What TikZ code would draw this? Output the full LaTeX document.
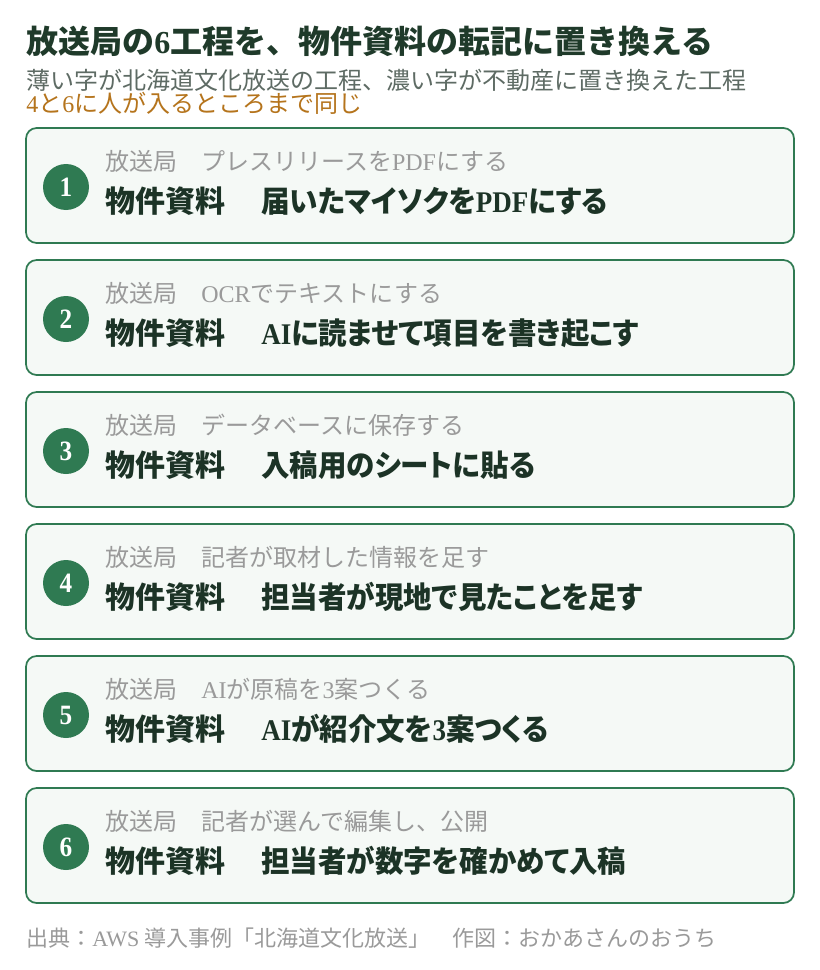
\documentclass[tikz,border=0pt]{standalone}
\usepackage{fontspec}
\setmainfont{Noto Sans CJK JP}
\newfontfamily\jp{Noto Sans CJK JP}
\newfontfamily\jpp[RawFeature=+palt, FakeStretch=0.95]{Noto Sans CJK JP}
\newfontfamily\lat{Liberation Serif}
\newfontfamily\latc[FakeStretch=0.9]{Liberation Serif}
\newcommand{\ltn}[1]{{\lat #1}}
\newcommand{\ltc}[1]{{\latc #1}}
\newcommand{\bukken}{{\jp 物件資料}\hspace{27pt}}
\definecolor{titlegreen}{HTML}{1F3A2A}
\definecolor{subgray}{HTML}{5E6B64}
\definecolor{noteorange}{HTML}{B5741C}
\definecolor{boxgreen}{HTML}{2F7A52}
\definecolor{boxfill}{HTML}{F5F9F6}
\definecolor{fadegray}{HTML}{9A9A9A}
\definecolor{darktext}{HTML}{1C3326}
\tikzset{
  stepbox/.style={draw=boxgreen, line width=1.3pt, fill=boxfill, rounded corners=8pt},
  stepnum/.style={circle, fill=boxgreen, minimum size=34.5pt, inner sep=0pt, text=white, font=\latc\bfseries\fontsize{21}{21}\selectfont},
  oldline/.style={anchor=west, inner sep=0pt, text=fadegray, font=\jp\fontsize{18}{18}\selectfont},
  newline/.style={anchor=west, inner sep=0pt, text=darktext, font=\jpp\bfseries\fontsize{22.5}{22.5}\selectfont},
}
\begin{document}
\begin{tikzpicture}[x=0.75pt,y=-0.75pt]
			%%%%% START %%%%%
			\useasboundingbox[fill=white] (0, 0) rectangle (820, 970);
			
			\node[anchor=west, inner sep=0pt, text=titlegreen, font=\jp\bfseries\fontsize{24}{24}\selectfont] (title) at (26, 41) {放送局の\ltn{6}工程を、物件資料の転記に置き換える};
			\node[anchor=west, inner sep=0pt, text=subgray, font=\jp\fontsize{18}{18}\selectfont] (sub1) at (26, 80) {薄い字が北海道文化放送の工程、濃い字が不動産に置き換えた工程};
			\node[anchor=west, inner sep=0pt, text=noteorange, font=\jp\fontsize{18}{18}\selectfont] (sub2) at (26, 103) {\ltn{4}と\ltn{6}に人が入るところまで同じ};
			
			\draw[stepbox] (26, 128) rectangle (794, 243);
			\node[stepnum] (n1) at (66, 187) {1};
			\node[oldline] (old1) at (105, 161) {放送局　プレスリリースを\ltn{PDF}にする};
			\node[newline] (new1) at (105, 201) {\bukken 届いたマイソクを\ltc{PDF}にする};
			
			\draw[stepbox] (26, 260) rectangle (794, 375);
			\node[stepnum] (n2) at (66, 319) {2};
			\node[oldline] (old2) at (105, 293) {放送局　\ltn{OCR}でテキストにする};
			\node[newline] (new2) at (105, 333) {\bukken \ltc{AI}に読ませて項目を書き起こす};
			
			\draw[stepbox] (26, 392) rectangle (794, 507);
			\node[stepnum] (n3) at (66, 451) {3};
			\node[oldline] (old3) at (105, 425) {放送局　データベースに保存する};
			\node[newline] (new3) at (105, 465) {\bukken 入稿用のシートに貼る};
			
			\draw[stepbox] (26, 524) rectangle (794, 639);
			\node[stepnum] (n4) at (66, 583) {4};
			\node[oldline] (old4) at (105, 557) {放送局　記者が取材した情報を足す};
			\node[newline] (new4) at (105, 597) {\bukken 担当者が現地で見たことを足す};
			
			\draw[stepbox] (26, 656) rectangle (794, 771);
			\node[stepnum] (n5) at (66, 715) {5};
			\node[oldline] (old5) at (105, 689) {放送局　\ltn{AI}が原稿を\ltn{3}案つくる};
			\node[newline] (new5) at (105, 729) {\bukken \ltc{AI}が紹介文を\ltc{3}案つくる};
			
			\draw[stepbox] (26, 788) rectangle (794, 903);
			\node[stepnum] (n6) at (66, 847) {6};
			\node[oldline] (old6) at (105, 821) {放送局　記者が選んで編集し、公開};
			\node[newline] (new6) at (105, 861) {\bukken 担当者が数字を確かめて入稿};
			
			\node[anchor=west, inner sep=0pt, text=fadegray, font=\jp\fontsize{16.5}{16.5}\selectfont] (source) at (26, 938) {出典：\ltn{AWS} 導入事例「北海道文化放送」　作図：おかあさんのおうち};
			
			%%%%% END %%%%%
\end{tikzpicture}
\end{document}
